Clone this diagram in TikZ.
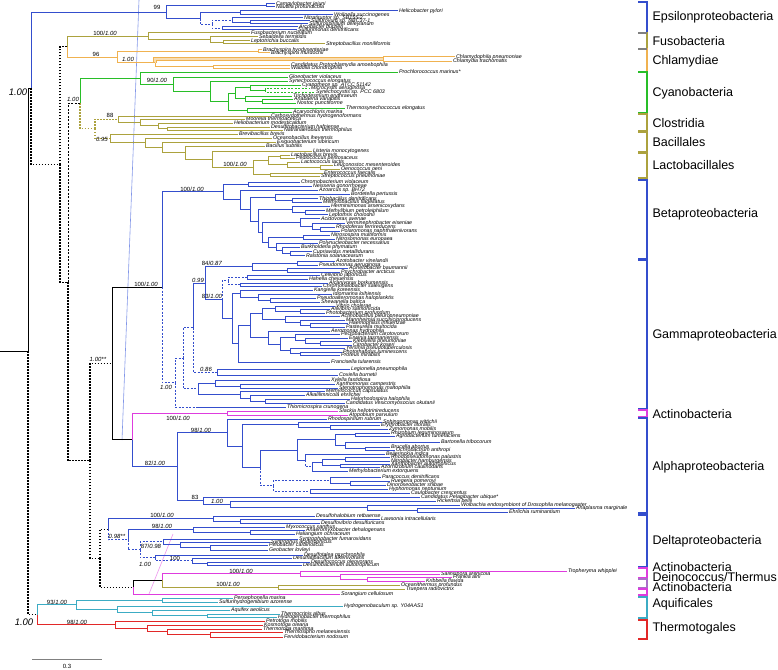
\documentclass[tikz,border=0pt]{standalone}
\usepackage{fontspec}
\setmainfont{Liberation Sans}
\usetikzlibrary{calc}
\definecolor{pblue}{RGB}{52,78,205}
\definecolor{olv}{RGB}{172,162,62}
\definecolor{orng}{RGB}{240,178,80}
\definecolor{grn}{RGB}{40,190,40}
\definecolor{mag}{RGB}{222,60,222}
\definecolor{teal2}{RGB}{60,172,196}
\definecolor{red2}{RGB}{226,40,40}
\definecolor{thinb}{RGB}{130,150,232}
\definecolor{purp}{RGB}{170,110,200}
\tikzset{
 leaf/.style={anchor=west, inner xsep=0.6pt, inner ysep=0pt, font=\fontsize{5.3}{5.3}\selectfont\itshape, text=black},
 sup/.style={font=\fontsize{6}{6}\selectfont, text=black, inner sep=0pt},
 big/.style={font=\fontsize{9.5}{9.5}\selectfont\itshape, text=black, inner sep=0pt},
 clade/.style={anchor=west, font=\fontsize{12.5}{12.5}\selectfont, text=black, inner sep=0pt},
 dsh/.style={dash pattern=on 2pt off 1.5pt},
 dot/.style={dash pattern=on 1.5pt off 1.5pt, line width=1.2pt},
 thickbr/.style={draw=orng, double=orng!45, double distance=2.4pt, line width=0.8pt},
}
\newcommand\leafn[4]{\node[leaf] (#1) at (#2,#3) {#4};}
\newcommand\inode[4]{\path let \p1=(#3), \p2=(#4) in coordinate (#1) at ({#2pt},{(\y1+\y2)/2});}
\newcommand\kids[3][]{\foreach \kid in {#3}{\draw[#1] (#2) |- (\kid);}}
\newcommand\brk[6]{\draw[#3, line width=1.2pt] (638,#1) -- (647,#1) -- (647,#2) -- (638,#2); \node[clade] (#4) at (652,#5) {#6};}
\begin{document}
\begin{tikzpicture}[x=1pt,y=-1pt,line width=1pt]
\useasboundingbox (0,0) rectangle (778,669);
% ---------------- leaves
\leafn{campy}{275}{4}{Campylobacter jejuni}
\leafn{naut}{275}{7}{Nautilia profundicola}
\leafn{heli}{398}{11}{Helicobacter pylori}
\leafn{woli}{333}{15}{Wolinella succinogenes}
\leafn{nitra}{303}{18}{Nitratiruptor sp. SB155-2}
\leafn{sulfov}{310}{21}{Sulfurovum sp. NBC37-1}
\leafn{sulfsp}{308}{24}{Sulfurospirillum deleyianum}
\leafn{arco}{298}{27}{Arcobacter butzleri}
\leafn{sulfim}{297}{30}{Sulfurimonas denitrificans}
\leafn{fuso}{250}{33}{Fusobacterium nucleatum}
\leafn{sebal}{258}{37}{Sebaldella termitidis}
\leafn{lepto}{250}{41}{Leptotrichia buccalis}
\leafn{strepb}{325}{44}{Streptobacillus moniliformis}
\leafn{brh}{262}{50}{Brachyspira hyodysenteriae}
\leafn{brm}{270}{53}{Brachyspira murdochii}
\leafn{chp}{455}{57}{Chlamydophila pneumoniae}
\leafn{cht}{452}{61}{Chlamydia trachomatis}
\leafn{proto}{290}{65}{Candidatus Protochlamydia amoebophila}
\leafn{wadd}{290}{68}{Waddlia chondrophila}
\leafn{proc}{398}{72}{Prochlorococcus marinus*}
\leafn{gloeo}{288}{77}{Gloeobacter violaceus}
\leafn{syne}{288}{81}{Synechococcus elongatus}
\leafn{cyanot}{301}{85}{Cyanothece sp. ATCC 51142}
\leafn{micro}{310}{88}{Microcystis aeruginosa}
\leafn{synecy}{315}{92}{Synechocystis sp. PCC 6803}
\leafn{tricho}{292}{96}{Trichodesmium erythraeum}
\leafn{anab}{293}{99}{Anabaena variabilis}
\leafn{nostoc}{296}{103}{Nostoc punctiforme}
\leafn{thermos}{345}{108}{Thermosynechococcus elongatus}
\leafn{acary}{292}{112}{Acaryochloris marina}
\leafn{carbo}{270}{116}{Carboxydothermus hydrogenoformans}
\leafn{moore}{245}{119}{Moorella thermoacetica}
\leafn{helio}{233}{123}{Heliobacterium modesticaldum}
\leafn{desulfit}{270}{127}{Desulfitobacterium hafniense}
\leafn{natra}{283}{130}{Natranaerobius thermophilus}
\leafn{brevi}{238}{134}{Brevibacillus brevis}
\leafn{oceano}{272}{138}{Oceanobacillus iheyensis}
\leafn{exig}{276}{142}{Exiguobacterium sibiricum}
\leafn{bsub}{265}{146}{Bacillus subtilis}
\leafn{lister}{312}{151}{Listeria monocytogenes}
\leafn{lbrev}{290}{155}{Lactobacillus brevis}
\leafn{pedio}{295}{158}{Pediococcus pentosaceus}
\leafn{lcocc}{300}{162}{Lactococcus lactis}
\leafn{leuco}{333}{165}{Leuconostoc mesenteroides}
\leafn{oeno}{340}{169}{Oenococcus oeni}
\leafn{entero}{323}{173}{Enterococcus faecalis}
\leafn{strep}{320}{176}{Streptococcus pneumoniae}
% beta
\leafn{chromo}{300}{182}{Chromobacterium violaceum}
\leafn{neiss}{312}{186.1}{Neisseria gonorrhoeae}
\leafn{azoar}{318}{190.2}{Azoarcus sp. BH72}
\leafn{bord}{350}{194.3}{Bordetella pertussis}
\leafn{thiob}{318}{198.4}{Thiobacillus denitrificans}
\leafn{methylob}{322}{202.5}{Methylobacillus flagellatus}
\leafn{hermin}{330}{206.6}{Herminiimonas arsenicoxydans}
\leafn{methylib}{325}{210.7}{Methylibium petroleiphilum}
\leafn{leptot}{328}{214.8}{Leptothrix cholodnii}
\leafn{acidov}{320}{218.9}{Acidovorax avenae}
\leafn{vermin}{345}{223}{Verminephrobacter eiseniae}
\leafn{rhodof}{335}{227.1}{Rhodoferax ferrireducens}
\leafn{polar}{340}{231.2}{Polaromonas naphthalenivorans}
\leafn{nitsp}{330}{235.3}{Nitrosospira multiformis}
\leafn{nitmo}{335}{239.4}{Nitrosomonas europaea}
\leafn{polyn}{318}{243.5}{Polynucleobacter necessarius}
\leafn{burk}{300}{247.6}{Burkholderia phymatum}
\leafn{cupri}{312}{251.7}{Cupriavidus metallidurans}
\leafn{ralst}{305}{255.8}{Ralstonia solanacearum}
% gamma
\leafn{azoto}{335}{261}{Azotobacter vinelandii}
\leafn{pseudo}{318}{265}{Pseudomonas aeruginosa}
\leafn{acine}{348}{268}{Acinetobacter baumannii}
\leafn{psychro}{340}{272}{Psychrobacter arcticus}
\leafn{cellv}{320}{275}{Cellvibrio japonicus}
\leafn{hahel}{308}{279}{Hahella chejuensis}
\leafn{alcan}{328}{283}{Alcanivorax borkumensis}
\leafn{chrom}{322}{286}{Chromohalobacter salexigens}
\leafn{kang}{313}{290}{Kangiella koreensis}
\leafn{idio}{332}{294}{Idiomarina loihiensis}
\leafn{psalt}{316}{298}{Pseudoalteromonas haloplanktis}
\leafn{shew}{320}{302}{Shewanella baltica}
\leafn{vibrio}{335}{306}{Vibrio cholerae}
\leafn{aliiv}{330}{309}{Aliivibrio salmonicida}
\leafn{photob}{325}{313}{Photobacterium profundum}
\leafn{actino}{340}{316}{Actinobacillus pleuropneumoniae}
\leafn{mannh}{345}{320}{Mannheimia succiniciproducens}
\leafn{haemo}{348}{323}{Haemophilus influenzae}
\leafn{paste}{345}{327}{Pasteurella multocida}
\leafn{aerom}{330}{331}{Aeromonas hydrophila}
\leafn{pecto}{340}{334}{Pectobacterium carotovorum}
\leafn{erwin}{348}{338}{Erwinia tasmaniensis}
\leafn{klebs}{352}{341}{Klebsiella pneumoniae}
\leafn{citro}{352}{345}{Citrobacter koseri}
\leafn{yersi}{345}{348}{Yersinia pseudotuberculosis}
\leafn{photor}{342}{352}{Photorhabdus luminescens}
\leafn{proteus}{340}{355}{Proteus mirabilis}
\leafn{franc}{330}{362}{Francisella tularensis}
\leafn{legio}{350}{369}{Legionella pneumophila}
\leafn{coxi}{338}{375}{Coxiella burnetii}
\leafn{xylel}{330}{380}{Xylella fastidiosa}
\leafn{xanth}{335}{384}{Xanthomonas campestris}
\leafn{steno}{338}{388}{Stenotrophomonas maltophilia}
\leafn{methylc}{325}{391}{Methylococcus capsulatus}
\leafn{alkal}{305}{395}{Alkalilimnicola ehrlichei}
\leafn{halor}{350}{399}{Halorhodospira halophila}
\leafn{vesic}{345}{403}{Candidatus Vesicomyosocius okutanii}
\leafn{thiomi}{286}{407}{Thiomicrospira crunogena}
% actino + alpha
\leafn{slack}{338}{411}{Slackia heliotrinireducens}
\leafn{atopo}{348}{415}{Atopobium parvulum}
\leafn{rhodos}{327}{419}{Rhodospirillum rubrum}
\leafn{sphing}{382}{422}{Sphingomonas wittichii}
\leafn{eryth}{380}{425}{Erythrobacter litoralis}
\leafn{zymo}{388}{429}{Zymomonas mobilis}
\leafn{rhizob}{390}{433}{Rhizobium leguminosarum}
\leafn{agro}{395}{436}{Agrobacterium tumefaciens}
\leafn{barton}{440}{442}{Bartonella tribocorum}
\leafn{bruc}{390}{447}{Brucella abortus}
\leafn{ochro}{395}{450}{Ochrobactrum anthropi}
\leafn{beijer}{385}{454}{Beijerinckia indica}
\leafn{rhodop}{390}{457}{Rhodopseudomonas palustris}
\leafn{nitrob}{390}{461}{Nitrobacter hamburgensis}
\leafn{xanthob}{390}{464}{Xanthobacter autotrophicus}
\leafn{azorh}{380}{467}{Azorhizobium caulinodans}
\leafn{methylo}{348}{471}{Methylobacterium extorquens}
\leafn{parac}{381}{477}{Paracoccus denitrificans}
\leafn{rueg}{390}{481}{Ruegeria pomeroyi}
\leafn{dino}{386}{485}{Dinoroseobacter shibae}
\leafn{hypho}{388}{489}{Hyphomonas neptunium}
\leafn{caulo}{410}{493}{Caulobacter crescentus}
\leafn{pelag}{420}{497}{Candidatus Pelagibacter ubique*}
\leafn{ricke}{436}{501}{Rickettsia bellii}
\leafn{wolba}{460}{505}{Wolbachia endosymbiont of Drosophila melanogaster}
\leafn{anapl}{575}{508}{Anaplasma marginale}
\leafn{ehrl}{508}{512}{Ehrlichia ruminantium}
% delta
\leafn{dhalo}{315}{516}{Desulfohalobium retbaense}
\leafn{lawso}{380}{519}{Lawsonia intracellularis}
\leafn{dvib}{320}{523}{Desulfovibrio desulfuricans}
\leafn{myxo}{285}{527}{Myxococcus xanthus}
\leafn{anaer}{305}{530}{Anaeromyxobacter dehalogenans}
\leafn{halia}{295}{534}{Haliangium ochraceum}
\leafn{syntb}{298}{539}{Syntrophobacter fumaroxidans}
\leafn{syntr}{270}{542}{Syntrophus aciditrophicus}
\leafn{pelob}{268}{545}{Pelobacter carbinolicus}
\leafn{geob}{268}{550}{Geobacter lovleyi}
\leafn{dtalea}{303}{555}{Desulfotalea psychrophila}
\leafn{dalk}{292}{558}{Desulfatibacillum alkenivorans}
\leafn{dcocc}{310}{562}{Desulfococcus oleovorans}
\leafn{dbact}{302}{565}{Desulfobacterium autotrophicum}
% black group
\leafn{troph}{567}{571}{Tropheryma whipplei}
\leafn{salini}{440}{574}{Salinispora arenicola}
\leafn{frank}{452}{577}{Frankia alni}
\leafn{kribb}{425}{581}{Kribbella flavida}
\leafn{ocean}{400}{585}{Oceanithermus profundus}
\leafn{truep}{405}{589}{Truepera radiovictrix}
\leafn{soran}{340}{594}{Sorangium cellulosum}
% aquificales / thermotogales
\leafn{perse}{233}{598}{Persephonella marina}
\leafn{sulfh}{218}{602}{Sulfurihydrogenibium azorense}
\leafn{hydrob}{343}{606}{Hydrogenobaculum sp. Y04AAS1}
\leafn{aquif}{230}{610}{Aquifex aeolicus}
\leafn{thcr}{280}{614}{Thermocrinis albus}
\leafn{hydth}{277}{617}{Hydrogenobacter thermophilus}
\leafn{petro}{265}{621}{Petrotoga mobilis}
\leafn{kosmo}{263}{625}{Kosmotoga olearia}
\leafn{tmar}{262}{629}{Thermotoga maritima}
\leafn{thsip}{283}{632}{Thermosipho melanesiensis}
\leafn{ferv}{283}{637}{Fervidobacterium nodosum}
% ---------------- internal nodes
\inode{e1}{266}{campy}{naut}
\inode{ehw}{240}{heli}{woli}
\inode{e4a}{250}{sulfov}{sulfsp}
\inode{e4}{232}{nitra}{e4a}
\inode{e5}{222}{arco}{sulfim}
\inode{e3}{212}{e4}{e5}
\inode{e2}{200}{ehw}{e3}
\inode{e0}{166}{e1}{e2}
\inode{f2}{223}{lepto}{strepb}
\inode{f1}{210}{sebal}{f2}
\inode{f0}{148}{fuso}{f1}
\inode{b0}{258}{brh}{brm}
\inode{c2}{383}{chp}{cht}
\inode{c3}{213}{proto}{wadd}
\inode{c1}{155}{c2}{c3}
\inode{ch0}{117}{b0}{c1}
\inode{fc0}{67}{f0}{ch0}
\inode{cy4a}{265}{micro}{synecy}
\inode{cy4}{250}{cyanot}{cy4a}
\inode{cy5a}{262}{anab}{nostoc}
\inode{cy5}{245}{tricho}{cy5a}
\inode{cy7}{235}{cy4}{cy5}
\inode{cy6}{247}{thermos}{acary}
\inode{cy3}{228}{cy7}{cy6}
\inode{cy2}{210}{syne}{cy3}
\inode{cy1}{173}{gloeo}{cy2}
\inode{cy0}{140}{proc}{cy1}
\inode{cl3}{167}{desulfit}{natra}
\inode{cl2}{158}{helio}{cl3}
\inode{cl1}{140}{moore}{cl2}
\inode{cl0}{118}{carbo}{cl1}
\inode{la1a}{280}{lbrev}{pedio}
\inode{la4}{320}{leuco}{oeno}
\inode{la3}{287}{lcocc}{la4}
\inode{la1}{268}{la1a}{la3}
\inode{la5}{270}{entero}{strep}
\inode{la0}{253}{la1}{la5}
\inode{ba4}{212}{lister}{la0}
\inode{ba3}{185}{bsub}{ba4}
\inode{ba2}{162}{exig}{ba3}
\inode{ba1}{145}{oceano}{ba2}
\inode{ba0}{110}{brevi}{ba1}
\inode{fi0}{95}{cl0}{ba0}
\inode{cf}{80}{cy0}{fi0}
\inode{b1}{248}{chromo}{neiss}
\inode{bA2}{292}{thiob}{methylob}
\inode{bA}{275}{bord}{bA2}
\inode{bC2}{305}{methylib}{leptot}
\inode{bC}{292}{hermin}{bC2}
\inode{bE3}{320}{rhodof}{polar}
\inode{bE2}{312}{vermin}{bE3}
\inode{bE}{300}{acidov}{bE2}
\inode{bG}{303}{nitsp}{nitmo}
\inode{bH3}{290}{cupri}{ralst}
\inode{bH2}{282}{burk}{bH3}
\inode{bH}{276}{polyn}{bH2}
\inode{bF}{268}{bG}{bH}
\inode{bD}{262}{bE}{bF}
\inode{bB}{258}{bC}{bD}
\inode{by}{250}{bA}{bB}
\inode{bx}{240}{azoar}{by}
\inode{bb0}{223}{b1}{bx}
\inode{gP1}{297}{azoto}{pseudo}
\inode{gP2}{287}{acine}{psychro}
\inode{gP}{252}{gP1}{gP2}
\inode{gH1}{247}{cellv}{hahel}
\inode{gH2}{240}{alcan}{chrom}
\inode{gH}{228}{gH1}{gH2}
\inode{gD1b}{270}{psalt}{shew}
\inode{gD1a}{258}{idio}{gD1b}
\inode{gD1}{240}{kang}{gD1a}
\inode{gV1}{300}{aliiv}{photob}
\inode{gV}{275}{vibrio}{gV1}
\inode{gPa2}{310}{haemo}{paste}
\inode{gPa1}{300}{mannh}{gPa2}
\inode{gPa}{285}{actino}{gPa1}
\inode{gE4}{320}{klebs}{citro}
\inode{gE3}{305}{erwin}{gE4}
\inode{gE2}{295}{pecto}{gE3}
\inode{gE5}{300}{photor}{proteus}
\inode{gE6}{290}{yersi}{gE5}
\inode{gE1}{280}{gE2}{gE6}
\inode{gE}{268}{aerom}{gE1}
\inode{gVP}{262}{gV}{gPa}
\inode{gM}{250}{gVP}{gE}
\inode{gD2}{238}{gM}{franc}
\inode{gDD}{232}{gD1}{gD2}
\inode{gD}{222}{gH}{gDD}
\inode{gC}{205}{gP}{gD}
\inode{gL}{217}{legio}{coxi}
\inode{gB}{193}{gC}{gL}
\inode{gXa1}{240}{xanth}{steno}
\inode{gXa}{215}{xylel}{gXa1}
\inode{gXb2}{265}{halor}{vesic}
\inode{gXb1}{250}{alkal}{gXb2}
\inode{gXb}{240}{methylc}{gXb1}
\inode{gX}{198}{gXa}{gXb}
\inode{gA}{183}{gB}{gX}
\inode{g0}{175}{gA}{thiomi}
\coordinate (gT) at (197,407);
\inode{BG}{162}{bb0}{g0}
\inode{ac0}{227}{slack}{atopo}
\inode{a3b}{330}{eryth}{zymo}
\inode{a3}{298}{sphing}{a3b}
\inode{a5c}{355}{rhizob}{agro}
\inode{a5d}{365}{bruc}{ochro}
\inode{a5e}{345}{barton}{a5d}
\inode{a5a}{335}{a5c}{a5e}
\inode{a5g}{345}{rhodop}{nitrob}
\inode{a5h}{340}{xanthob}{azorh}
\inode{a5f}{322}{a5g}{a5h}
\inode{a5i}{312}{a5f}{methylo}
\inode{a5b}{305}{beijer}{a5i}
\inode{a5}{297}{a5a}{a5b}
\inode{a6b}{350}{rueg}{dino}
\inode{a6a}{330}{parac}{a6b}
\inode{a6c}{310}{hypho}{caulo}
\inode{a6}{273}{a6a}{a6c}
\inode{a4}{260}{a5}{a6}
\inode{a2}{242}{a3}{a4}
\inode{a1}{227}{rhodos}{a2}
\inode{a12}{417}{anapl}{ehrl}
\inode{a11}{367}{wolba}{a12}
\inode{a10}{230}{ricke}{a11}
\inode{a9}{203}{pelag}{a10}
\inode{a0}{177}{a1}{a9}
\inode{AA}{132}{ac0}{a0}
\inode{BGAA}{112}{BG}{AA}
\inode{dl}{240}{lawso}{dvib}
\inode{D1}{213}{dhalo}{dl}
\inode{dm2}{250}{anaer}{halia}
\inode{DM}{193}{myxo}{dm2}
\inode{ds3}{210}{pelob}{geob}
\inode{ds2}{180}{syntr}{ds3}
\inode{DS}{163}{syntb}{ds2}
\inode{dd3}{207}{dcocc}{dbact}
\inode{dd2}{192}{dalk}{dd3}
\inode{DDs}{155}{dtalea}{dd2}
\inode{DQ}{140}{DS}{DDs}
\inode{Dx}{128}{DM}{DQ}
\inode{D0}{108}{D1}{Dx}
\inode{gm3}{367}{frank}{kribb}
\inode{gm2}{340}{salini}{gm3}
\inode{GM}{300}{troph}{gm2}
\inode{GO}{278}{ocean}{truep}
\inode{GA}{162}{GM}{GO}
\inode{G}{133}{GA}{soran}
\inode{aq1}{162}{perse}{sulfh}
\inode{aq4}{207}{thcr}{hydth}
\inode{aq3}{152}{aquif}{aq4}
\inode{aq2}{117}{hydrob}{aq3}
\inode{aq0}{76}{aq1}{aq2}
\inode{th4}{210}{thsip}{ferv}
\inode{th3}{167}{tmar}{th4}
\inode{th1}{147}{kosmo}{th3}
\inode{th0}{115}{petro}{th1}
\inode{AT}{37}{aq0}{th0}
\inode{N4}{100}{D0}{G}
\inode{N3}{90}{BGAA}{N4}
\inode{N2}{68}{cf}{N3}
\inode{N1}{60}{fc0}{N2}
\inode{T}{31}{e0}{N1}
\inode{R}{28}{T}{AT}
\coordinate (rootend) at ($(R)+(-28,0)$);
% thin guide lines
\draw[thinb, line width=0.6pt] (139,0) -- (122,440);
\draw[mag!55, line width=0.6pt] (173,534) -- (149,594);
% ---------------- edges
\begin{scope}[draw=pblue]
\kids{e1}{campy,naut}
\kids{ehw}{heli,woli}
\kids{e4a}{sulfov,sulfsp}
\kids{e4}{nitra,e4a}
\kids{e5}{arco,sulfim}
\kids[dsh]{e3}{e4,e5}
\kids{e2}{ehw}
\kids[dsh]{e2}{e3}
\kids{e0}{e1,e2}
\end{scope}
\begin{scope}[draw=olv]
\kids{f2}{lepto,strepb}
\kids{f1}{sebal,f2}
\kids{f0}{fuso,f1}
\kids{fc0}{f0}
\end{scope}
\begin{scope}[draw=orng]
\kids{b0}{brh,brm}
\kids{c2}{chp,cht}
\kids{c3}{proto,wadd}
\kids[thickbr]{c1}{c2}
\kids{c1}{c3}
\kids{ch0}{b0,c1}
\kids{fc0}{ch0}
\end{scope}
\begin{scope}[draw=grn]
\kids[dsh]{cy4a}{micro,synecy}
\kids{cy4}{cyanot,cy4a}
\kids{cy5a}{anab,nostoc}
\kids{cy5}{tricho,cy5a}
\kids{cy7}{cy4,cy5}
\kids{cy6}{thermos,acary}
\kids{cy3}{cy7,cy6}
\kids{cy2}{syne,cy3}
\kids{cy1}{gloeo,cy2}
\kids{cy0}{proc,cy1}
\kids{cf}{cy0}
\end{scope}
\begin{scope}[draw=olv]
\kids{cl3}{desulfit,natra}
\kids{cl2}{helio,cl3}
\kids{cl1}{moore,cl2}
\kids{cl0}{carbo,cl1}
\kids{la1a}{lbrev,pedio}
\kids{la4}{leuco,oeno}
\kids{la3}{lcocc,la4}
\kids{la1}{la1a,la3}
\kids{la5}{entero,strep}
\kids{la0}{la1,la5}
\kids{ba4}{lister,la0}
\kids{ba3}{bsub,ba4}
\kids{ba2}{exig,ba3}
\kids{ba1}{oceano,ba2}
\kids{ba0}{brevi,ba1}
\kids[dot]{fi0}{cl0,ba0}
\kids[dot]{cf}{fi0}
\end{scope}
\begin{scope}[draw=pblue]
\kids{b1}{chromo,neiss}
\kids{bA2}{thiob,methylob}
\kids{bA}{bord,bA2}
\kids{bC2}{methylib,leptot}
\kids{bC}{hermin,bC2}
\kids{bE3}{rhodof,polar}
\kids{bE2}{vermin,bE3}
\kids{bE}{acidov,bE2}
\kids{bG}{nitsp,nitmo}
\kids{bH3}{cupri,ralst}
\kids{bH2}{burk,bH3}
\kids{bH}{polyn,bH2}
\kids{bF}{bG,bH}
\kids{bD}{bE,bF}
\kids{bB}{bC,bD}
\kids{by}{bA,bB}
\kids{bx}{azoar,by}
\kids{bb0}{b1,bx}
\kids{gP1}{azoto,pseudo}
\kids{gP2}{acine,psychro}
\kids{gP}{gP1,gP2}
\kids{gH1}{cellv,hahel}
\kids{gH2}{alcan,chrom}
\kids[dsh]{gH}{gH1,gH2}
\kids{gD1b}{psalt,shew}
\kids{gD1a}{idio,gD1b}
\kids{gD1}{kang,gD1a}
\kids{gV1}{aliiv,photob}
\kids{gV}{vibrio,gV1}
\kids{gPa2}{haemo,paste}
\kids{gPa1}{mannh,gPa2}
\kids{gPa}{actino,gPa1}
\kids{gE4}{klebs,citro}
\kids{gE3}{erwin,gE4}
\kids{gE2}{pecto,gE3}
\kids{gE5}{photor,proteus}
\kids{gE6}{yersi,gE5}
\kids{gE1}{gE2,gE6}
\kids{gE}{aerom,gE1}
\kids{gVP}{gV,gPa}
\kids{gM}{gVP,gE}
\kids{gD2}{gM,franc}
\kids{gDD}{gD1,gD2}
\kids[dsh]{gD}{gH}
\kids{gD}{gDD}
\kids{gC}{gP,gD}
\kids{gL}{legio,coxi}
\kids{gB}{gC}
\kids[dsh]{gB}{gL}
\kids{gXa1}{xanth,steno}
\kids{gXa}{xylel,gXa1}
\kids{gXb2}{halor,vesic}
\kids{gXb1}{alkal,gXb2}
\kids{gXb}{methylc,gXb1}
\kids{gX}{gXa,gXb}
\kids[dsh]{gA}{gB,gX}
\kids[dsh]{g0}{gA,gT}
\draw (gT) -- (thiomi);
\kids{BG}{bb0}
\kids[dsh]{BG}{g0}
\kids{a3b}{eryth,zymo}
\kids{a3}{sphing,a3b}
\kids{a5c}{rhizob,agro}
\kids{a5d}{bruc,ochro}
\kids{a5e}{barton,a5d}
\kids{a5a}{a5c,a5e}
\kids{a5g}{rhodop,nitrob}
\kids{a5h}{xanthob,azorh}
\kids{a5f}{a5g,a5h}
\kids{a5i}{a5f,methylo}
\kids{a5b}{beijer}
\kids[dsh]{a5b}{a5i}
\kids{a5}{a5a,a5b}
\kids{a6b}{rueg,dino}
\kids{a6a}{parac,a6b}
\kids{a6c}{hypho,caulo}
\kids[dsh]{a6}{a6a,a6c}
\kids{a4}{a5}
\kids[dsh]{a4}{a6}
\kids{a2}{a3,a4}
\kids{a1}{rhodos,a2}
\kids{a12}{anapl,ehrl}
\kids{a11}{wolba,a12}
\kids{a10}{ricke,a11}
\kids{a9}{pelag,a10}
\kids{a0}{a1,a9}
\kids{AA}{a0}
\kids{dl}{lawso,dvib}
\kids{D1}{dhalo,dl}
\kids{dm2}{anaer,halia}
\kids{DM}{myxo,dm2}
\kids{ds3}{pelob,geob}
\kids{ds2}{syntr,ds3}
\kids{DS}{syntb,ds2}
\kids{dd3}{dcocc,dbact}
\kids{dd2}{dalk,dd3}
\kids{DDs}{dtalea}
\kids[dsh]{DDs}{dd2}
\kids[dsh]{DQ}{DS,DDs}
\kids{Dx}{DM}
\kids[dsh]{Dx}{DQ}
\kids{D0}{D1}
\kids[dsh]{D0}{Dx}
\kids{T}{e0}
\end{scope}
\begin{scope}[draw=mag]
\kids{ac0}{slack,atopo}
\kids{AA}{ac0}
\kids{gm3}{frank,kribb}
\kids{gm2}{salini,gm3}
\kids{GM}{troph,gm2}
\kids{GA}{GM}
\kids{G}{soran}
\end{scope}
\begin{scope}[draw=olv]
\kids{GO}{ocean,truep}
\kids{GA}{GO}
\end{scope}
\begin{scope}[draw=teal2]
\kids{aq1}{perse,sulfh}
\kids{aq4}{thcr,hydth}
\kids{aq3}{aquif,aq4}
\kids{aq2}{hydrob,aq3}
\kids{aq0}{aq1,aq2}
\kids{AT}{aq0}
\end{scope}
\begin{scope}[draw=red2]
\kids{th4}{thsip,ferv}
\kids{th3}{tmar,th4}
\kids{th1}{kosmo,th3}
\kids{th0}{petro,th1}
\kids{AT}{th0}
\end{scope}
\kids{G}{GA}
\kids{BGAA}{BG,AA}
\kids[dot]{N4}{D0,G}
\kids[dot]{N3}{BGAA,N4}
\kids[dsh]{N2}{cf}
\kids[dot]{N2}{N3}
\kids[dot]{N1}{fc0,N2}
\kids[dot]{T}{N1}
\kids{R}{T}
\kids[dot]{R}{AT}
\draw (rootend) -- (R);
% ---------------- support values
\node[sup] (s1) at (157,7) {99};
\node[sup] (s2) at (105,33) {100/\textit{1.00}};
\node[sup] (s3) at (96,54) {96};
\node[sup] (s4) at (128,59) {\textit{1.00}};
\node[sup] (s5) at (73,99) {\textit{1.00}};
\node[sup] (s6) at (157,80) {90/\textit{1.00}};
\node[sup] (s7) at (110,115) {88};
\node[sup] (s8) at (102,139) {\textit{0.95}};
\node[sup] (s9) at (235,164) {100/\textit{1.00}};
\node[sup] (s10) at (192,189) {100/\textit{1.00}};
\node[sup] (s11) at (146,284) {100/\textit{1.00}};
\node[sup] (s12) at (212,263) {84/\textit{0.87}};
\node[sup] (s13) at (198,280) {\textit{0.99}};
\node[sup] (s14) at (212,296) {83/\textit{1.00}};
\node[sup] (s15) at (206,369) {\textit{0.86}};
\node[sup] (s16) at (166,387) {\textit{1.00}};
\node[sup] (s17) at (98,359) {\textit{1.00**}};
\node[sup] (s18) at (178,418) {100/\textit{1.00}};
\node[sup] (s19) at (201,430) {98/\textit{1.00}};
\node[sup] (s20) at (155,463) {82/\textit{1.00}};
\node[sup] (s21) at (195,497) {83};
\node[sup] (s22) at (217,501) {\textit{1.00}};
\node[sup] (s23) at (162,515) {100/\textit{1.00}};
\node[sup] (s24) at (117,536) {\textit{0.98**}};
\node[sup] (s25) at (162,526) {98/\textit{1.00}};
\node[sup] (s26) at (151,546) {87/\textit{0.98}};
\node[sup] (s27) at (145,564) {\textit{1.00}};
\node[sup] (s28) at (175,558) {100};
\node[sup] (s29) at (241,571) {100/\textit{1.00}};
\node[sup] (s30) at (228,584) {100/\textit{1.00}};
\node[sup] (s31) at (57,602) {93/\textit{1.00}};
\node[sup] (s32) at (77,622) {98/\textit{1.00}};
\node[big] (s33) at (18,92) {1.00};
\node[big] (s34) at (24,622) {1.00};
% scale bar
\coordinate (sc1) at (32,659);
\coordinate (sc2) at (102,659);
\draw[gray, line width=1pt] (sc1) -- (sc2);
\node[sup] (scl) at (67,666) {0.3};
% ---------------- brackets
\brk{2}{33}{pblue}{lEps}{17}{Epsilonproteobacteria}
\brk{33}{49}{olv}{lFus}{41}{Fusobacteria}
\brk{49}{72}{orng}{lChl}{61}{Chlamydiae}
\brk{72}{113}{grn}{lCya}{93}{Cyanobacteria}
\brk{114}{131}{olv}{lClo}{123}{Clostridia}
\brk{132}{152}{olv}{lBac}{142}{Bacillales}
\brk{153}{178}{olv}{lLac}{165}{Lactobacillales}
\brk{180}{259}{pblue}{lBet}{214}{Betaproteobacteria}
\brk{260}{409}{pblue}{lGam}{335}{Gammaproteobacteria}
\brk{410}{417}{mag}{lAc1}{414}{Actinobacteria}
\brk{418}{513}{pblue}{lAlp}{467}{Alphaproteobacteria}
\brk{515}{567}{pblue}{lDel}{541}{Deltaproteobacteria}
\brk{568}{578}{mag}{lAc2}{567}{Actinobacteria}
\brk{579}{588}{purp}{lDei}{577}{Deinococcus/Thermus}
\brk{589}{595}{mag}{lAc3}{587}{Actinobacteria}
\brk{597}{618}{teal2}{lAqu}{604}{Aquificales}
\brk{620}{639}{red2}{lThe}{628}{Thermotogales}
\coordinate (gt1a) at (638,33);
\coordinate (gt1b) at (647,33);
\coordinate (gt2a) at (638,49);
\coordinate (gt2b) at (647,49);
\draw[gray, line width=2pt] (gt1a) -- (gt1b);
\draw[gray, line width=2pt] (gt2a) -- (gt2b);
\end{tikzpicture}
\end{document}
